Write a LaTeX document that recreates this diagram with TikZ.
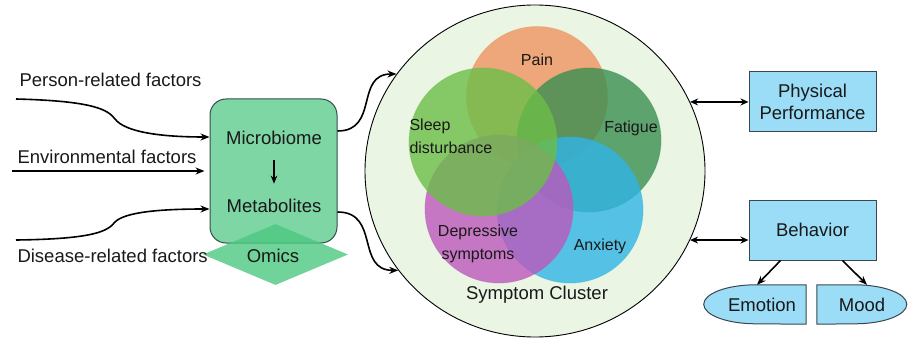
\documentclass[tikz,border=0pt]{standalone}
\usepackage{fontspec}
\setmainfont{Liberation Sans}
\usetikzlibrary{arrows.meta,shapes.geometric}
\definecolor{bgreen}{HTML}{EAF5E3}
\definecolor{mint}{HTML}{7ED6A5}
\definecolor{dkline}{HTML}{2F4F46}
\definecolor{omg}{HTML}{4CC880}
\definecolor{lblue}{HTML}{9BDDF6}
\definecolor{boxline}{HTML}{3C4650}
\definecolor{cpain}{HTML}{EE9460}
\definecolor{cfat}{HTML}{3A8F50}
\definecolor{canx}{HTML}{30B4E6}
\definecolor{cdep}{HTML}{BC58BC}
\definecolor{csleep}{HTML}{6CBE48}
\tikzset{
  big/.style={font=\fontsize{18.5}{22}\selectfont, text=black!90},
  vl/.style={font=\fontsize{16}{23}\selectfont, text=black!90},
  arr/.style={line width=1.6pt, -{Stealth[length=9pt,width=7pt]}},
  darr/.style={line width=1.6pt, {Stealth[length=8pt,width=7pt]}-{Stealth[length=8pt,width=7pt]}},
  venn/.style={circle, inner sep=0pt, fill opacity=0.8, draw opacity=0.4, line width=0.8pt},
  bluebox/.style={draw=boxline, line width=1pt, fill=lblue, inner sep=0pt, align=center,
     font=\fontsize{18.5}{21.5}\selectfont, text=black!90},
}
\begin{document}
\begin{tikzpicture}[x=1pt,y=-1pt]
\useasboundingbox (0,0) rectangle (909,339);

% symptom cluster
\node[ellipse, draw, line width=0.9pt, fill=bgreen, minimum width=340pt, minimum height=332pt, inner sep=0pt] (cluster) at (535,171) {};
\node[venn, fill=cpain, draw=cpain, minimum size=141pt] (pain) at (537,97) {};
\node[venn, fill=cfat, draw=cfat, minimum size=144pt] (fat) at (589,140) {};
\node[venn, fill=canx, draw=canx, minimum size=146pt] (anx) at (570,210) {};
\node[venn, fill=cdep, draw=cdep, minimum size=148pt] (dep) at (499,209) {};
\node[venn, fill=csleep, draw=csleep, minimum size=148pt] (sleep) at (483,142) {};

\node[vl] (lpain) at (537,60) {Pain};
\node[vl, anchor=west, align=left] (lsleep) at (406,136.5) {Sleep\\disturbance};
\node[vl] (lfat) at (631,128) {Fatigue};
\node[vl, align=center] (ldep) at (478,244) {Depressive\\symptoms};
\node[vl] (lanx) at (600,246) {Anxiety};
\node[big] (lcluster) at (537,295) {Symptom Cluster};

% microbiome box
\node[draw=dkline, fill=mint, rounded corners=16pt, minimum width=127pt, minimum height=144pt, line width=1pt, inner sep=0pt] (gbox) at (273.5,171) {};
\node[diamond, fill=omg, fill opacity=0.8, minimum width=145pt, minimum height=61pt, inner sep=0pt] (omics) at (275.5,254.5) {};
\node[big] (lomics) at (273,256) {Omics};
\node[big] (mb) at (274,138) {Microbiome};
\node[big] (met) at (274,206) {Metabolites};
\draw[line width=1.5pt, -{Stealth[length=8pt,width=6.5pt]}] ([yshift=-12pt]mb.south) -- ([yshift=12pt]met.north);

% left factors
\node[big, anchor=base west] (tperson) at (16,87) {Person-related factors};
\node[big, anchor=base west] (tenv) at (14,164) {Environmental factors};
\node[big, anchor=base west] (tdis) at (14,262) {Disease-related factors};
\coordinate (p0) at (16,99);
\coordinate (e0) at (12,171);
\coordinate (d0) at (16,240);
\draw[arr] (p0) .. controls (95,101) and (108,110) .. (115,119) .. controls (125,132) and (160,137) .. ([yshift=34pt]gbox.west);
\draw[arr] (e0) -- ([xshift=-5pt]gbox.west);
\draw[arr] (d0) .. controls (95,239) and (108,231) .. (115,222) .. controls (125,212) and (160,209) .. ([yshift=-38pt]gbox.west);

% box to cluster
\draw[arr] ([yshift=40pt]gbox.east) to[out=0,in=180,looseness=1.3] (cluster.145);
\draw[arr] ([yshift=-41pt]gbox.east) to[out=0,in=180,looseness=1.3] (cluster.216);

% right side
\node[bluebox, minimum width=127pt, minimum height=60pt] (phys) at (812.5,102) {Physical\\Performance};
\node[bluebox, minimum width=127pt, minimum height=60pt] (beh) at (812.5,230) {Behavior};
\coordinate (c1) at (cluster.24);
\coordinate (c2) at (cluster.-24.5);
\draw[darr] (c1) -- (c1 -| phys.west);
\draw[darr] (c2) -- (c2 -| beh.west);

\node[minimum width=101pt, minimum height=39pt, inner sep=0pt] (emo) at (755.5,304.5) {};
\node[minimum width=91pt, minimum height=39pt, inner sep=0pt] (mood) at (862.5,304.5) {};
\draw[draw=boxline, line width=1pt, fill=lblue] (emo.north east) -- ([xshift=-50.5pt]emo.north east)
   arc[start angle=90, end angle=270, x radius=52pt, y radius=19.5pt] -- (emo.south east) -- cycle;
\draw[draw=boxline, line width=1pt, fill=lblue] (mood.north west) -- ([xshift=38pt]mood.north west)
   arc[start angle=90, end angle=-90, x radius=52pt, y radius=19.5pt] -- (mood.south west) -- cycle;
\node[big] (lemo) at (762,305) {Emotion};
\node[big] (lmood) at (862,305) {Mood};
\draw[arr] ([xshift=-32pt]beh.south) -- ([xshift=1.5pt]emo.north);
\draw[arr] ([xshift=30pt]beh.south) -- ([xshift=4.5pt]mood.north);
\end{tikzpicture}
\end{document}
